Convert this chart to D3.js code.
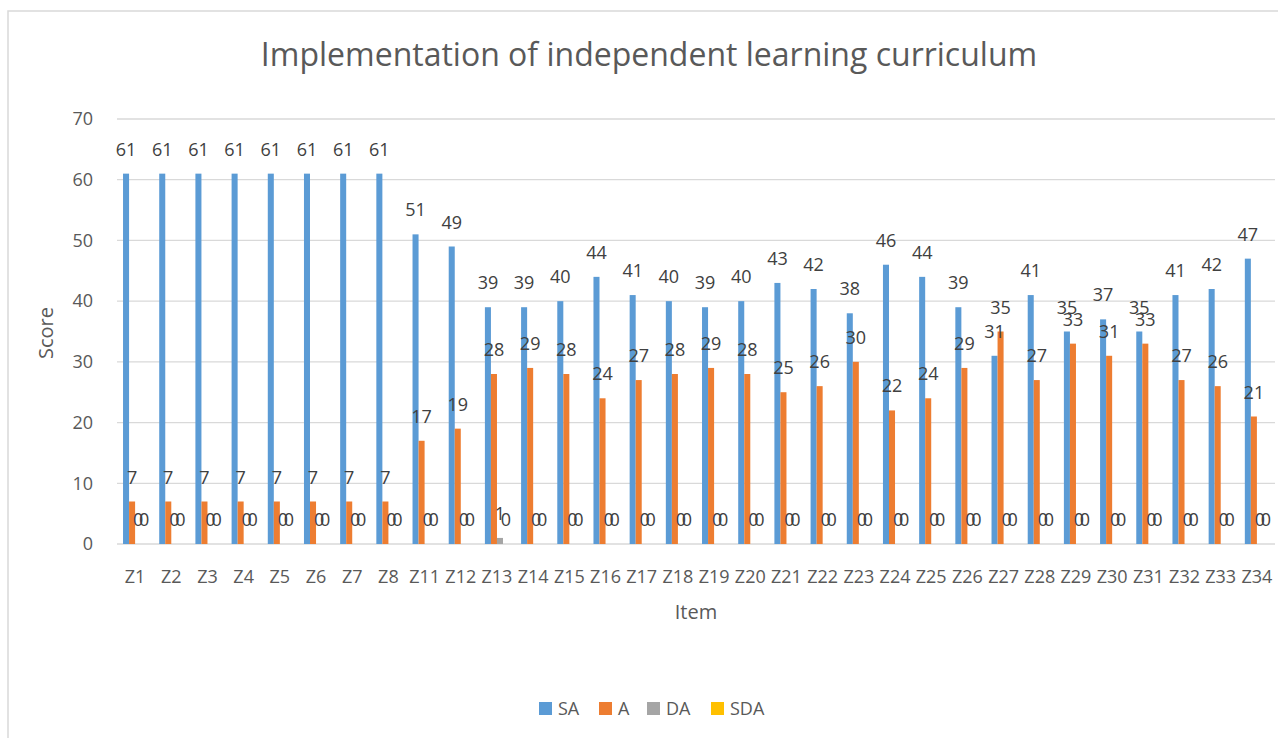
<!DOCTYPE html>
<html>
<head>
  <title>Implementation of independent learning curriculum</title>
  <script src="https://d3js.org/d3.v7.min.js"></script>
  <style>
    body { margin: 0; background: #fff; }
    text { font-family: "Open Sans", "Noto Sans", sans-serif; fill: #595959; }
  </style>
</head>
<body>
  <svg width="1278" height="738"></svg>
  <script>
    var items = ["Z1","Z2","Z3","Z4","Z5","Z6","Z7","Z8","Z11","Z12","Z13","Z14","Z15","Z16","Z17","Z18",
                 "Z19","Z20","Z21","Z22","Z23","Z24","Z25","Z26","Z27","Z28","Z29","Z30","Z31","Z32","Z33","Z34"];
    var seriesNames = ["SA", "A", "DA", "SDA"];
    var seriesColors = ["#5b9bd5", "#ed7d31", "#a5a5a5", "#ffc000"];
    var SA  = [61,61,61,61,61,61,61,61,51,49,39,39,40,44,41,40,39,40,43,42,38,46,44,39,31,41,35,37,35,41,42,47];
    var A   = [7,7,7,7,7,7,7,7,17,19,28,29,28,24,27,28,29,28,25,26,30,22,24,29,35,27,33,31,33,27,26,21];
    var DA  = [0,0,0,0,0,0,0,0,0,0,1,0,0,0,0,0,0,0,0,0,0,0,0,0,0,0,0,0,0,0,0,0];
    var SDA = [0,0,0,0,0,0,0,0,0,0,0,0,0,0,0,0,0,0,0,0,0,0,0,0,0,0,0,0,0,0,0,0];
    var yTicks = [0,10,20,30,40,50,60,70];

    var values = [SA, A, DA, SDA];
    var data = items.map(function(item, i) {
      return { item: item, vals: seriesNames.map(function(s, j) { return { key: s, v: values[j][i] }; }) };
    });

    var svg = d3.select("svg");

    // chart frame
    svg.append("rect")
      .attr("x", 8).attr("y", 11).attr("width", 1290).attr("height", 760)
      .attr("fill", "none").attr("stroke", "#d9d9d9").attr("stroke-width", 1.5);

    var plotLeft = 117, plotRight = 1275, plotTop = 119, plotBottom = 544;

    var x0 = d3.scaleBand().domain(items).range([plotLeft, plotRight]).paddingInner(0.333).paddingOuter(0.1667);
    var x1 = d3.scaleBand().domain(seriesNames).range([0, x0.bandwidth()]);
    var y = d3.scaleLinear().domain([0, 70]).range([plotBottom, plotTop]);
    var color = d3.scaleOrdinal().domain(seriesNames).range(seriesColors);

    // gridlines
    svg.append("g").selectAll("line")
      .data(yTicks).enter().append("line")
      .attr("x1", plotLeft).attr("x2", plotRight)
      .attr("y1", function(d) { return y(d); }).attr("y2", function(d) { return y(d); })
      .attr("stroke", "#d9d9d9").attr("stroke-width", 1.3);

    // y tick labels
    svg.append("g").selectAll("text")
      .data(yTicks).enter().append("text")
      .attr("x", 93).attr("y", function(d) { return y(d); })
      .attr("dy", "0.35em").attr("text-anchor", "end")
      .style("font-size", "18px")
      .text(function(d) { return d; });

    // bars
    var groups = svg.append("g").selectAll("g")
      .data(data).enter().append("g")
      .attr("transform", function(d) { return "translate(" + x0(d.item) + ",0)"; });

    groups.selectAll("rect")
      .data(function(d) { return d.vals; }).enter().append("rect")
      .attr("x", function(d) { return x1(d.key); })
      .attr("y", function(d) { return y(d.v); })
      .attr("width", x1.bandwidth())
      .attr("height", function(d) { return plotBottom - y(d.v); })
      .attr("fill", function(d) { return color(d.key); });

    groups.selectAll("text")
      .data(function(d) { return d.vals; }).enter().append("text")
      .attr("x", function(d) { return x1(d.key) + x1.bandwidth() / 2; })
      .attr("y", function(d) { return y(d.v) - 18; })
      .attr("text-anchor", "middle")
      .style("font-size", "18px")
      .style("fill", "#404040")
      .text(function(d) { return d.v; });

    // x tick labels
    svg.append("g").selectAll("text")
      .data(items).enter().append("text")
      .attr("x", function(d) { return x0(d) + x0.bandwidth() / 2; })
      .attr("y", 583)
      .attr("text-anchor", "middle")
      .style("font-size", "18px")
      .text(function(d) { return d; });

    // title
    svg.append("text")
      .attr("x", 649).attr("y", 66)
      .attr("text-anchor", "middle")
      .style("font-size", "32px")
      .text("Implementation of independent learning curriculum");

    // axis titles
    svg.append("text")
      .attr("transform", "translate(53,333) rotate(-90)")
      .attr("text-anchor", "middle")
      .style("font-size", "20px")
      .text("Score");

    svg.append("text")
      .attr("x", 696).attr("y", 619)
      .attr("text-anchor", "middle")
      .style("font-size", "20px")
      .text("Item");

    // legend
    var legendX = [539, 599, 647, 711];
    var legend = svg.append("g").selectAll("g")
      .data(seriesNames).enter().append("g")
      .attr("transform", function(d, i) { return "translate(" + legendX[i] + ",702)"; });
    legend.append("rect")
      .attr("width", 13).attr("height", 13)
      .attr("fill", function(d) { return color(d); });
    legend.append("text")
      .attr("x", 19).attr("y", 7).attr("dy", "0.35em")
      .style("font-size", "18px")
      .text(function(d) { return d; });
  </script>
</body>
</html>
